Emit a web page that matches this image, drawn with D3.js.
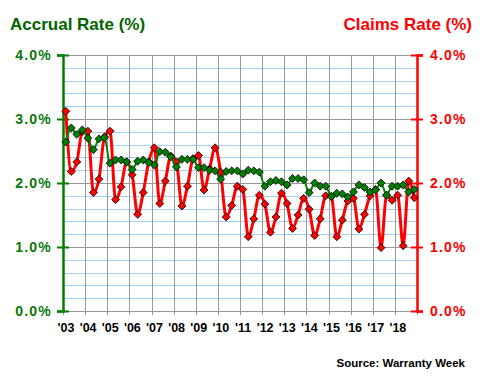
<!DOCTYPE html>
<html>
<head>
<meta charset="utf-8">
<script src="https://cdn.jsdelivr.net/npm/d3@7"></script>
<style>
html,body{margin:0;padding:0;background:#fff;}
svg{display:block;font-family:"Liberation Sans",Arial,sans-serif;}
</style>
</head>
<body>
<svg id="chart" width="480" height="380"></svg>
<script>
// Quarterly data, 2003 Q1 .. 2018 Q4
const yearLabels = ["'03","'04","'05","'06","'07","'08","'09","'10","'11","'12","'13","'14","'15","'16","'17","'18"];
const yTicks = [0, 1, 2, 3, 4];
const accrualRate = [
  2.64, 2.86, 2.76, 2.83, 2.70, 2.52, 2.69, 2.71,
  2.31, 2.36, 2.36, 2.33, 2.21, 2.34, 2.36, 2.32,
  2.28, 2.49, 2.48, 2.41, 2.25, 2.37, 2.37, 2.37,
  2.24, 2.24, 2.20, 2.19, 2.06, 2.18, 2.19, 2.19,
  2.14, 2.20, 2.19, 2.17, 1.95, 2.02, 2.04, 2.02,
  1.97, 2.07, 2.07, 2.05, 1.85, 2.00, 1.95, 1.95,
  1.79, 1.84, 1.83, 1.78, 1.86, 1.97, 1.93, 1.86,
  1.89, 2.00, 1.81, 1.95, 1.95, 1.97, 1.86, 1.90
];
const claimsRate = [
  3.12, 2.18, 2.33, 2.80, 2.81, 1.85, 2.06, 2.72,
  2.81, 1.74, 1.94, 2.33, 2.13, 1.51, 1.85, 2.33,
  2.55, 1.68, 2.03, 2.42, 2.33, 1.64, 1.95, 2.38,
  2.43, 1.89, 2.22, 2.55, 2.17, 1.47, 1.65, 1.95,
  1.90, 1.16, 1.44, 1.81, 1.67, 1.23, 1.47, 1.84,
  1.68, 1.29, 1.50, 1.76, 1.59, 1.18, 1.44, 1.80,
  1.79, 1.16, 1.42, 1.72, 1.76, 1.28, 1.51, 1.80,
  1.90, 0.99, 1.81, 1.73, 1.81, 1.02, 2.03, 1.77
];

const GREEN = "#008000", GREEN_TXT = "#0a780a", RED = "#ff0000";
const svg = d3.select("#chart");
const x = d3.scaleLinear().domain([2003, 2019]).range([63, 417]);
const y = d3.scaleLinear().domain([0, 4]).range([311, 55]);
const qx = i => x(2003 + (i + 0.5) / 4);

// minor horizontal grid (light blue)
const minor = d3.range(0, 4.0001, 0.2).filter(v => Math.abs(v - Math.round(v)) > 1e-6);
svg.append("g").selectAll("line").data(minor).join("line")
  .attr("x1", x(2003)).attr("x2", x(2019))
  .attr("y1", d => Math.round(y(d)) + 0.5).attr("y2", d => Math.round(y(d)) + 0.5)
  .attr("stroke", "#a6cff2").attr("stroke-width", 1);
// major horizontal grid (gray)
svg.append("g").selectAll("line").data(yTicks).join("line")
  .attr("x1", x(2003)).attr("x2", x(2019))
  .attr("y1", d => Math.round(y(d)) + 0.5).attr("y2", d => Math.round(y(d)) + 0.5)
  .attr("stroke", "#999999").attr("stroke-width", 1);
// vertical grid + x ticks (gray)
const years = d3.range(2003, 2020);
svg.append("g").selectAll("line").data(years).join("line")
  .attr("x1", d => Math.round(x(d)) + 0.5).attr("x2", d => Math.round(x(d)) + 0.5)
  .attr("y1", y(4)).attr("y2", y(0) + 4)
  .attr("stroke", "#999999").attr("stroke-width", 1);

// x labels
svg.append("g").selectAll("text").data(yearLabels).join("text")
  .attr("x", (d, i) => x(2003 + i) + 3)
  .attr("y", 331.5)
  .attr("text-anchor", "middle")
  .attr("font-size", "12.5px").attr("font-weight", "bold").attr("fill", "#000")
  .text(d => d);

// left axis
const leftAxis = d3.axisLeft(y).tickValues(yTicks).tickSize(6)
  .tickFormat(d => d3.format(".1f")(d) + "%");
const gl = svg.append("g").attr("transform", `translate(${x(2003)},0)`).call(leftAxis);
gl.select(".domain").attr("stroke", GREEN).attr("stroke-width", 2.5);
gl.selectAll(".tick line").attr("stroke", GREEN).attr("stroke-width", 2).attr("x1", 6).attr("x2", -6);
gl.selectAll(".tick text").attr("fill", GREEN_TXT).attr("font-size", "14px").attr("font-weight", "bold")
  .attr("font-family", "'Liberation Sans',Arial,sans-serif").attr("letter-spacing", "1.2px").attr("x", -11);

// right axis
const rightAxis = d3.axisRight(y).tickValues(yTicks).tickSize(6)
  .tickFormat(d => d3.format(".1f")(d) + "%");
const gr = svg.append("g").attr("transform", `translate(${x(2019)},0)`).call(rightAxis);
gr.select(".domain").attr("stroke", RED).attr("stroke-width", 2.5);
gr.selectAll(".tick line").attr("stroke", RED).attr("stroke-width", 2).attr("x1", -6).attr("x2", 6);
gr.selectAll(".tick text").attr("fill", RED).attr("font-size", "14px").attr("font-weight", "bold")
  .attr("font-family", "'Liberation Sans',Arial,sans-serif").attr("letter-spacing", "1.2px").attr("x", 13);

// lines
const line = d3.line().x((d, i) => qx(i)).y(d => y(d)).curve(d3.curveMonotoneX);
const diamond = d3.symbol().type(d3.symbolDiamond2).size(40);

svg.append("path").datum(claimsRate).attr("d", line)
  .attr("fill", "none").attr("stroke", RED).attr("stroke-width", 3).attr("stroke-linejoin", "round");
svg.append("g").selectAll("path").data(claimsRate).join("path")
  .attr("d", diamond).attr("transform", (d, i) => `translate(${qx(i)},${y(d)})`)
  .attr("fill", RED).attr("stroke", "#000").attr("stroke-width", 0.8);

svg.append("path").datum(accrualRate).attr("d", line)
  .attr("fill", "none").attr("stroke", GREEN).attr("stroke-width", 2).attr("stroke-linejoin", "round");
svg.append("g").selectAll("path").data(accrualRate).join("path")
  .attr("d", diamond).attr("transform", (d, i) => `translate(${qx(i)},${y(d)})`)
  .attr("fill", GREEN).attr("stroke", "#000").attr("stroke-width", 0.8);

// titles
svg.append("text").attr("x", 10).attr("y", 30).attr("font-size", "17px").attr("font-weight", "bold")
  .attr("fill", "#006400").text("Accrual Rate (%)");
svg.append("text").attr("x", 472).attr("y", 30).attr("text-anchor", "end").attr("font-size", "17px")
  .attr("font-weight", "bold").attr("fill", RED).text("Claims Rate (%)");
svg.append("text").attr("x", 465).attr("y", 366.5).attr("text-anchor", "end").attr("font-size", "11.5px")
  .attr("font-weight", "bold").attr("fill", "#000").text("Source: Warranty Week");
</script>
</body>
</html>
